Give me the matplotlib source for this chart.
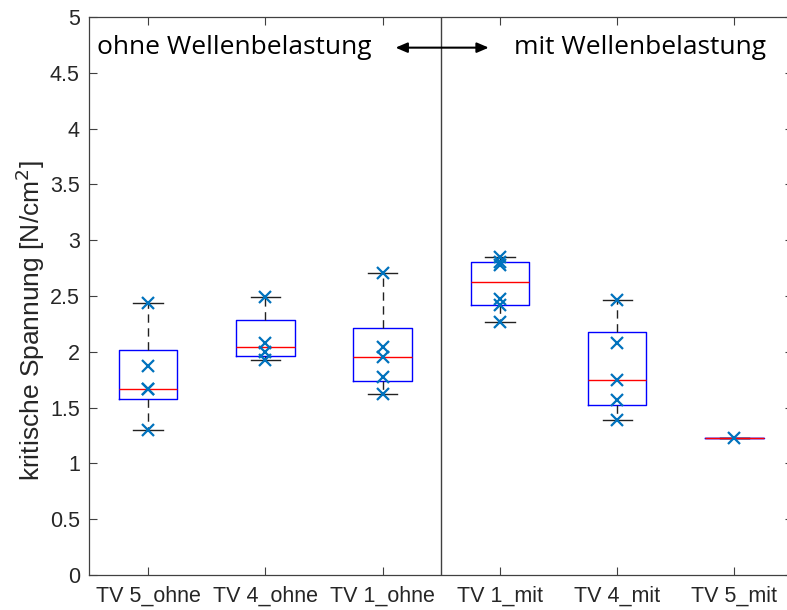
import numpy as np
import matplotlib
matplotlib.use("Agg")
import matplotlib.pyplot as plt

# ---- data ----
categories = ["TV 5_ohne", "TV 4_ohne", "TV 1_ohne", "TV 1_mit", "TV 4_mit", "TV 5_mit"]
tv5_ohne = [1.30, 1.665, 1.67, 1.87, 2.44]
tv4_ohne = [1.93, 2.00, 2.08, 2.49]
tv1_ohne = [1.625, 1.77, 1.95, 2.045, 2.71]
tv1_mit = [2.27, 2.42, 2.47, 2.78, 2.80, 2.85]
tv4_mit = [1.39, 1.57, 1.745, 2.08, 2.46]
tv5_mit = [1.228]
series = [tv5_ohne, tv4_ohne, tv1_ohne, tv1_mit, tv4_mit, tv5_mit]
y_ticks = [0, 0.5, 1, 1.5, 2, 2.5, 3, 3.5, 4, 4.5, 5]
y_tick_labels = ["0", "0.5", "1", "1.5", "2", "2.5", "3", "3.5", "4", "4.5", "5"]
ylabel = "kritische Spannung [N/cm$^2$]"
left_text = "ohne Wellenbelastung"
right_text = "mit Wellenbelastung"

TICK_FONT = ["Liberation Sans", "DejaVu Sans"]
NOTE_FONT = ["Open Sans", "DejaVu Sans"]
TEXT_COLOR = "#262626"


def matlab_stats(vals):
    v = np.sort(np.asarray(vals, dtype=float))
    q1 = np.percentile(v, 25, method="hazen")
    med = np.percentile(v, 50, method="hazen")
    q3 = np.percentile(v, 75, method="hazen")
    iqr = q3 - q1
    lo = v[v >= q1 - 1.5 * iqr].min()
    hi = v[v <= q3 + 1.5 * iqr].max()
    return dict(med=med, q1=q1, q3=q3, whislo=lo, whishi=hi, fliers=[])


fig = plt.figure(figsize=(7.87, 6.10), dpi=100)
ax = fig.add_axes([0.1137, 0.0574, 0.894, 0.9148])

positions = np.arange(1, len(categories) + 1)
stats = [matlab_stats(s) for s in series]
ax.bxp(stats, positions=positions, widths=0.5, capwidths=0.25,
       showfliers=False, patch_artist=False,
       boxprops=dict(color="#0000FF", linewidth=1.0),
       medianprops=dict(color="#FF0000", linewidth=1.0),
       whiskerprops=dict(color="#222222", linewidth=1.0, linestyle=(0, (6, 4))),
       capprops=dict(color="#222222", linewidth=1.0))

for p, s in zip(positions, series):
    ax.plot([p] * len(s), s, linestyle="none", marker="x", markersize=8,
            markeredgewidth=1.6, color="#0072BD", zorder=5)

# divider
ax.plot([3.5, 3.5], [0, 5], color="#404040", linewidth=1.0, zorder=1)

ax.set_xlim(0.5, 6.5)
ax.set_ylim(0, 5)
ax.set_xticks(positions)
ax.set_xticklabels(categories, family=TICK_FONT, fontsize=15.5, color=TEXT_COLOR)
ax.set_yticks(y_ticks)
ax.set_yticklabels(y_tick_labels, family=TICK_FONT, fontsize=15.5, color=TEXT_COLOR)
ax.tick_params(axis="both", direction="in", length=6, width=0.8, color="#404040",
               top=True, right=True)
ax.tick_params(axis="x", pad=8)
ax.tick_params(axis="y", pad=7)
for sp in ax.spines.values():
    sp.set_color("#404040")
    sp.set_linewidth(0.9)

ax.set_ylabel(ylabel, family=TICK_FONT, fontsize=19, color=TEXT_COLOR)
ax.yaxis.set_label_coords(-0.060, 0.455)

ax.text(0.564, 4.725, left_text, family=NOTE_FONT, fontsize=19, color="black",
        ha="left", va="center")
ax.text(4.12, 4.725, right_text, family=NOTE_FONT, fontsize=19, color="black",
        ha="left", va="center")
ax.annotate("", xy=(3.11, 4.725), xytext=(3.905, 4.725),
            arrowprops=dict(arrowstyle="<|-|>,head_length=0.7,head_width=0.3",
                            color="black", linewidth=1.5, shrinkA=0, shrinkB=0))

fig.savefig("out.png", dpi=100)
